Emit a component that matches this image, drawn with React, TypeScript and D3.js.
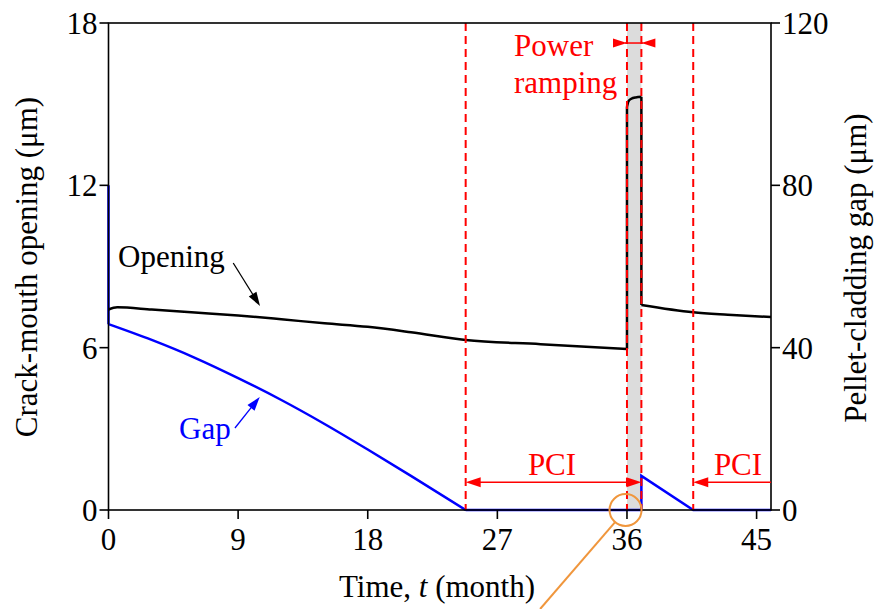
import React from "react";
import * as d3 from "d3";

// ---- data ----
const openingT = [0, 0.6, 3, 6, 9, 12, 15, 18, 21, 24.8, 30, 36, 36, 36.1, 36.3, 36.6, 37, 37, 40.6, 43, 46];
const openingV = [7.41, 7.49, 7.41, 7.3, 7.19, 7.05, 6.9, 6.77, 6.57, 6.28, 6.13, 5.95, 14.9, 15.1, 15.2, 15.25, 15.27, 7.58, 7.31, 7.22, 7.13];
const gapT = [0, 0, 3, 6, 9, 12, 15, 18, 21, 24.8, 36, 37, 37, 40.6, 46];
const gapV = [80, 45.8, 41.9, 37.5, 32.5, 27.1, 21.2, 14.9, 8.4, 0, 0, 0, 8.4, 0, 0];
const xTicks = [0, 9, 18, 27, 36, 45];
const yLeftTicks = [0, 6, 12, 18];
const yRightTicks = [0, 40, 80, 120];
const dashedT = [24.8, 36, 37, 40.6];
const rampStart = 36;
const rampEnd = 37;

const W = 877;
const H = 609;
const FONT = "Liberation Serif, DejaVu Serif, serif";
const FS = 31;
const RED = "#ff0000";
const BLUE = "#0000ff";

const x = d3.scaleLinear().domain([0, 46]).range([108.5, 771]);
const yL = d3.scaleLinear().domain([0, 18]).range([510, 23]);
const yR = d3.scaleLinear().domain([0, 120]).range([510, 23]);

function head(tx: number, ty: number, fx: number, fy: number, len: number, hw: number) {
  const dx = tx - fx, dy = ty - fy;
  const L = Math.hypot(dx, dy);
  const ux = dx / L, uy = dy / L;
  const bx = tx - ux * len, by = ty - uy * len;
  return `${tx},${ty} ${bx - uy * hw},${by + ux * hw} ${bx + uy * hw},${by - ux * hw}`;
}

function Arrow({ x1, y1, x2, y2, color, w = 1.5, len = 14, hw = 4.5 }: any) {
  const dx = x2 - x1, dy = y2 - y1;
  const L = Math.hypot(dx, dy);
  const ex = x2 - (dx / L) * len * 0.8, ey = y2 - (dy / L) * len * 0.8;
  return (
    <g>
      <line x1={x1} y1={y1} x2={ex} y2={ey} stroke={color} strokeWidth={w} />
      <polygon points={head(x2, y2, x1, y1, len, hw)} fill={color} />
    </g>
  );
}

const txt: React.CSSProperties = { fontFamily: FONT };

export default function App() {
  const pts = (T: number[], V: number[], a: number, b: number) =>
    T.slice(a, b + 1).map((t, i) => [t, V[a + i]] as [number, number]);
  const smoothL = d3.line<[number, number]>().x(d => x(d[0])).y(d => yL(d[1])).curve(d3.curveMonotoneX);
  const linL = d3.line<[number, number]>().x(d => x(d[0])).y(d => yL(d[1]));
  const smoothR = d3.line<[number, number]>().x(d => x(d[0])).y(d => yR(d[1])).curve(d3.curveMonotoneX);
  const linR = d3.line<[number, number]>().x(d => x(d[0])).y(d => yR(d[1]));

  const openPath =
    (smoothL(pts(openingT, openingV, 0, 11)) || "") +
    (linL(pts(openingT, openingV, 11, 12)) || "") +
    (smoothL(pts(openingT, openingV, 12, 16)) || "") +
    (linL(pts(openingT, openingV, 16, 17)) || "") +
    (smoothL(pts(openingT, openingV, 17, 20)) || "");
  const gapPath =
    (linR(pts(gapT, gapV, 0, 1)) || "") +
    (smoothR(pts(gapT, gapV, 1, 9)) || "") +
    (linR(pts(gapT, gapV, 9, 14)) || "");

  const [x0, x1] = x.range();
  const [yb, yt] = yL.range();

  const pciY = yL(1.03);
  const prY = yL(17.26);

  // orange callout
  const cx = x(35.9), cy = yL(0), r = 16;
  const ox = x(29.97), oy = yL(-3.66);
  const odx = ox - cx, ody = oy - cy, oL = Math.hypot(odx, ody);

  return (
    <svg width={W} height={H} style={{ position: "absolute", left: 0, top: 0, background: "#fff", fontFamily: FONT }}>
      {/* ramp band */}
      <rect x={x(rampStart)} y={yt} width={x(rampEnd) - x(rampStart)} height={yb - yt} fill="#dcdcdc" />

      {/* data lines */}
      <path d={gapPath} fill="none" stroke={BLUE} strokeWidth={2.5} />
      <path d={openPath} fill="none" stroke="#000" strokeWidth={2.5} strokeLinejoin="round" />

      {/* dashed lines */}
      {dashedT.map(t => (
        <line key={t} x1={x(t)} x2={x(t)} y1={yt} y2={yb} stroke={RED} strokeWidth={2} strokeDasharray="8,5" />
      ))}

      {/* frame */}
      <rect x={x0} y={yt} width={x1 - x0} height={yb - yt} fill="none" stroke="#000" strokeWidth={1.6} />

      {/* x ticks */}
      {xTicks.map(t => (
        <g key={t}>
          <line x1={x(t)} x2={x(t)} y1={yb} y2={yb + 9} stroke="#000" strokeWidth={1.6} />
          <text style={txt} x={x(t)} y={550} fontSize={FS} textAnchor="middle">{t}</text>
        </g>
      ))}
      {yLeftTicks.map(v => (
        <g key={v}>
          <line x1={x0 - 9} x2={x0} y1={yL(v)} y2={yL(v)} stroke="#000" strokeWidth={1.6} />
          <text style={txt} x={x0 - 11} y={yL(v) + 11} fontSize={FS} textAnchor="end">{v}</text>
        </g>
      ))}
      {yRightTicks.map(v => (
        <g key={v}>
          <line x1={x1} x2={x1 + 9} y1={yR(v)} y2={yR(v)} stroke="#000" strokeWidth={1.6} />
          <text style={txt} x={x1 + 11} y={yR(v) + 11} fontSize={FS} textAnchor="start">{v}</text>
        </g>
      ))}

      {/* axis titles */}
      <text style={txt} x={437} y={597} fontSize={FS} textAnchor="middle">
        Time, <tspan fontStyle="italic">t</tspan> (month)
      </text>
      <text style={txt} transform="translate(37,267) rotate(-90)" fontSize={FS} textAnchor="middle">Crack-mouth opening (μm)</text>
      <text style={txt} transform="translate(866,268) rotate(-90)" fontSize={FS} textAnchor="middle">Pellet-cladding gap (μm)</text>

      {/* Opening / Gap annotations */}
      <text style={txt} x={118} y={267} fontSize={FS}>Opening</text>
      <Arrow x1={x(8.66)} y1={yL(9.13)} x2={x(10.52)} y2={yL(7.54)} color="#000" w={1.3} len={14} hw={4.5} />
      <text style={txt} x={179} y={439} fontSize={FS} fill={BLUE}>Gap</text>
      <Arrow x1={x(8.78)} y1={yL(3.03)} x2={x(10.5)} y2={yL(4.18)} color={BLUE} w={1.3} len={14} hw={4.5} />

      {/* Power ramping */}
      <text style={txt} x={514} y={56} fontSize={FS} fill={RED}>Power</text>
      <text style={txt} x={514} y={93} fontSize={FS} fill={RED}>ramping</text>
      <line x1={x(rampStart) - 2} x2={x(rampEnd) + 2} y1={prY} y2={prY} stroke={RED} strokeWidth={1.5} />
      <polygon points={head(x(rampStart), prY, x(rampStart) - 20, prY, 14, 4.5)} fill={RED} />
      <polygon points={head(x(rampEnd), prY, x(rampEnd) + 20, prY, 14, 4.5)} fill={RED} />

      {/* PCI arrows */}
      <line x1={x(24.8) + 8} x2={x(rampEnd) - 8} y1={pciY} y2={pciY} stroke={RED} strokeWidth={1.5} />
      <polygon points={head(x(24.8), pciY, x(24.8) + 20, pciY, 15, 5)} fill={RED} />
      <polygon points={head(x(rampEnd), pciY, x(rampEnd) - 20, pciY, 15, 5)} fill={RED} />
      <text style={txt} x={552} y={475} fontSize={FS} fill={RED} textAnchor="middle">PCI</text>
      <line x1={x1} x2={x(40.6) + 8} y1={pciY} y2={pciY} stroke={RED} strokeWidth={1.5} />
      <polygon points={head(x(40.6), pciY, x(40.6) + 20, pciY, 15, 5)} fill={RED} />
      <text style={txt} x={738} y={475} fontSize={FS} fill={RED} textAnchor="middle">PCI</text>

      {/* orange callout */}
      <circle cx={cx} cy={cy} r={r} fill="none" stroke="#f0963c" strokeWidth={2} />
      <line x1={cx + (odx / oL) * r} y1={cy + (ody / oL) * r} x2={ox} y2={oy} stroke="#f0963c" strokeWidth={2} />
    </svg>
  );
}
